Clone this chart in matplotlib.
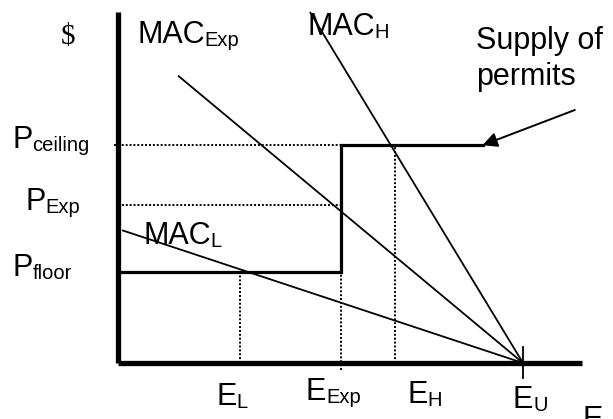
import matplotlib.pyplot as plt

plt.rcParams['font.family'] = ['Liberation Sans', 'DejaVu Sans']

# price levels and emission levels (arbitrary units)
p_floor = 2.5
p_exp = 4.35
p_ceiling = 6.0
e_l = 3.0
e_exp = 5.5
e_h = 6.85
e_u = 10.0
e_axis_end = 11.46
p_axis_top = 9.67

# supply of permits: floor up to E_Exp, then ceiling
supply_x = [0, e_exp, e_exp, 9.0]
supply_y = [p_floor, p_floor, p_ceiling, p_ceiling]

# marginal abatement cost curves, all ending at E_U
mac_exp_x = [1.5, e_u]
mac_exp_y = [7.9, 0]
mac_h_x = [4.75, e_u]
mac_h_y = [9.65, 0]
mac_l_x = [0.12, e_u]
mac_l_y = [3.65, 0]


def sub_label(ax, x, y, main, sub, size=22, subsize=14.5):
    t = ax.text(x, y, main, fontsize=size, ha='left', va='baseline')
    ax.annotate(sub, xy=(1, 0), xycoords=t, fontsize=subsize,
                ha='left', va='bottom')
    return t


fig = plt.figure(figsize=(6.13, 4.19), dpi=100)
ax = fig.add_axes([0, 0, 1, 1])
ax.set_xlim(-2.914, 12.222)
ax.set_ylim(-1.543, 10.0)
ax.axis('off')

# axes of the diagram
ax.plot([0, 0], [0, p_axis_top], color='k', lw=3.8, solid_capstyle='butt')
ax.plot([0, e_axis_end], [0, 0], color='k', lw=3.8, solid_capstyle='butt')
ax.plot([e_u, e_u], [0.44, -0.41], color='k', lw=1.3)

dot = dict(color='k', lw=1.4, linestyle=(0, (1, 1)))
ax.plot([-0.1, e_exp], [p_ceiling, p_ceiling], **dot)
ax.plot([0, e_exp], [p_exp, p_exp], **dot)
ax.plot([e_l, e_l], [0, p_floor], **dot)
ax.plot([e_exp, e_exp], [-0.19, p_floor], **dot)
ax.plot([e_h, e_h], [0, p_ceiling], **dot)

ax.plot(supply_x, supply_y, color='k', lw=2.3, solid_joinstyle='miter')
ax.plot(mac_exp_x, mac_exp_y, color='k', lw=1.3)
ax.plot(mac_h_x, mac_h_y, color='k', lw=1.3)
ax.plot(mac_l_x, mac_l_y, color='k', lw=1.3)

ax.annotate('', xy=(9.0, p_ceiling), xytext=(11.28, 6.97),
            arrowprops=dict(arrowstyle='-|>', mutation_scale=22, lw=1.4,
                            color='k', shrinkA=0, shrinkB=0))

# labels
ax.text(-1.235, 8.98, '$', fontsize=21, family='Liberation Serif',
        ha='center', va='center')
sub_label(ax, 0.47, 8.82, 'MAC', 'Exp')
sub_label(ax, 4.67, 9.04, 'MAC', 'H')
sub_label(ax, 0.617, 3.28, 'MAC', 'L')
ax.text(8.84, 7.66, 'Supply of\npermits', fontsize=22, ha='left',
        va='baseline', linespacing=1.27)
sub_label(ax, -2.617, 5.92, 'P', 'ceiling')
sub_label(ax, -2.296, 4.21, 'P', 'Exp')
sub_label(ax, -2.617, 2.40, 'P', 'floor')
sub_label(ax, 2.42, -1.157, 'E', 'L')
sub_label(ax, 4.64, -1.02, 'E', 'Exp')
sub_label(ax, 7.14, -1.10, 'E', 'H')
sub_label(ax, 9.75, -1.24, 'E', 'U')
ax.text(11.46, -1.79, 'E', fontsize=22, ha='left', va='baseline')

fig.savefig('out.png', dpi=100)
